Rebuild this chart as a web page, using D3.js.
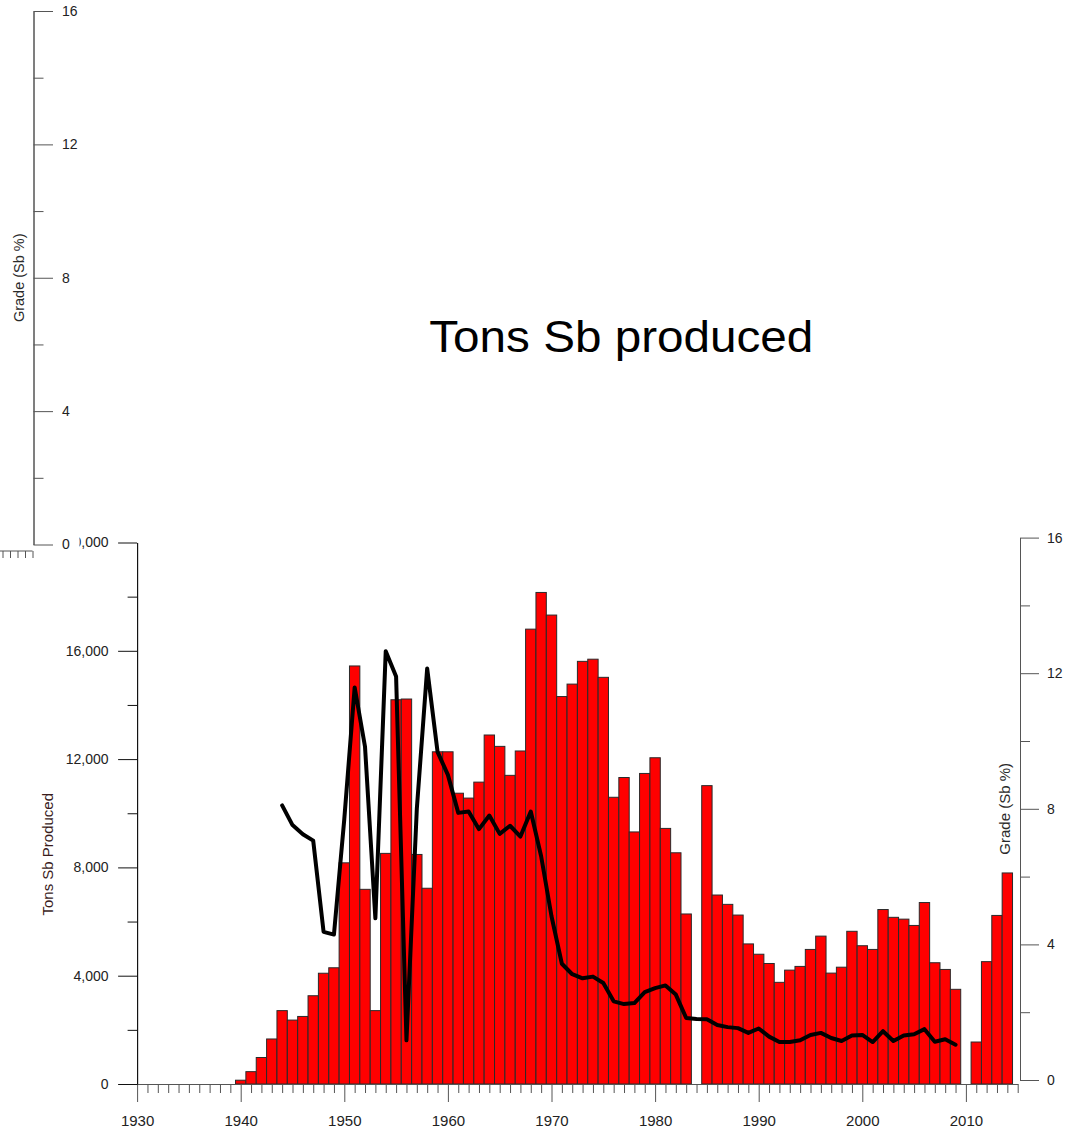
<!DOCTYPE html>
<html>
<head>
<meta charset="utf-8">
<script src="https://cdn.jsdelivr.net/npm/d3@7"></script>
<style>
  html, body { margin: 0; padding: 0; background: #fff; }
  svg { display: block; font-family: "Liberation Sans", Arial, sans-serif; }
</style>
</head>
<body>
<svg id="chart" width="1069" height="1130"></svg>
<script>
// ---------- data ----------
const years = d3.range(1940, 2015);
const tons = [
  140, 456, 979, 1663, 2710, 2361, 2495, 3260, 4091, 4293,          // 1940-1949
  8169, 15440, 7190, 2710, 8518, 14192, 14219, 8478, 7230, 12270,   // 1950-1959
  12270, 10740, 10560, 11150, 12890, 12470, 11400, 12300, 16800, 18155, // 1960-1969
  17320, 14310, 14770, 15610, 15690, 15020, 10590, 11320, 9310, 11470, // 1970-1979
  12050, 9440, 8540, 6280, 0, 11020, 6980, 6635, 6240, 5174,       // 1980-1989
  4793, 4451, 3755, 4206, 4343, 4970, 5462, 4096, 4314, 5640,      // 1990-1999
  5107, 4970, 6444, 6156, 6089, 5856, 6702, 4479, 4231, 3497,      // 2000-2009
  0, 1551, 4519, 6226, 7795                                        // 2010-2014
];
const gradeYears = d3.range(1944, 2010);
const grade = [
  8.1, 7.52, 7.25, 7.06, 4.37, 4.29,                                // 1944-1949
  7.7, 11.58, 9.83, 4.77, 12.65, 11.9, 1.17, 8.0, 12.14, 9.68,      // 1950-1959
  9.0, 7.88, 7.92, 7.40, 7.80, 7.26, 7.50, 7.18, 7.92, 6.60,        // 1960-1969
  4.83, 3.43, 3.12, 3.00, 3.05, 2.86, 2.32, 2.24, 2.27, 2.59,       // 1970-1979
  2.71, 2.79, 2.52, 1.83, 1.80, 1.79, 1.62, 1.56, 1.53, 1.39,       // 1980-1989
  1.52, 1.28, 1.12, 1.12, 1.17, 1.33, 1.39, 1.24, 1.15, 1.31,       // 1990-1999
  1.33, 1.12, 1.44, 1.15, 1.31, 1.35, 1.50, 1.13, 1.20, 1.04        // 2000-2009
];
const tonsMajor = [0, 4000, 8000, 12000, 16000, 20000];
const tonsMinor = [2000, 6000, 10000, 14000, 18000];
const gradeMajor = [0, 4, 8, 12, 16];
const gradeMinor = [2, 6, 10, 14];
const yearMajor = d3.range(1930, 2011, 10);
const yearMinor = d3.range(1931, 2016).filter(y => y % 10 !== 0);
const titleText = "Tons Sb produced";

// ---------- scales ----------
const svg = d3.select("#chart");
const x = d3.scaleLinear().domain([1930, 2015]).range([137.1, 1017.7]);
const yT = d3.scaleLinear().domain([0, 20000]).range([1084, 542.5]);
const yG = d3.scaleLinear().domain([0, 16]).range([1080, 537.6]);
const yG1 = d3.scaleLinear().domain([0, 16]).range([544.5, 11]);
const bw = x(1931) - x(1930);

function styleAxis(g, col, fs) {
  g.selectAll("path.domain").attr("stroke", col).attr("stroke-width", 1);
  g.selectAll(".tick line").attr("stroke", col).attr("stroke-width", 1);
  g.selectAll(".tick text").attr("fill", "#222").style("font-size", fs + "px")
    .style("font-family", '"Liberation Sans", Arial, sans-serif');
}

// ---------- bars ----------
const barData = years.map((yr, i) => ({ yr, v: tons[i] })).filter(d => d.v > 0);
svg.append("g").selectAll("rect").data(barData).join("rect")
  .attr("x", d => x(d.yr - 0.5))
  .attr("width", bw)
  .attr("y", d => yT(d.v))
  .attr("height", d => yT(0) - yT(d.v))
  .attr("fill", "#ff0000")
  .attr("stroke", "#2a2a2a")
  .attr("stroke-width", 1);

// ---------- x axis ----------
const gxMinor = svg.append("g").attr("transform", `translate(0,${yT(0)})`)
  .call(d3.axisBottom(x).tickValues(yearMinor).tickSize(9).tickSizeOuter(0).tickFormat(""));
styleAxis(gxMinor, "#555", 15);
const gxMajor = svg.append("g").attr("transform", `translate(0,${yT(0)})`)
  .call(d3.axisBottom(x).tickValues(yearMajor).tickSize(18).tickSizeOuter(0)
    .tickPadding(13).tickFormat(d3.format("d")));
styleAxis(gxMajor, "#555", 15);
gxMajor.select("path.domain").remove();

// ---------- left tons axis ----------
const gtMinor = svg.append("g").attr("transform", `translate(${x(1930)},0)`)
  .call(d3.axisLeft(yT).tickValues(tonsMinor).tickSize(9.5).tickSizeOuter(0).tickFormat(""));
styleAxis(gtMinor, "#111", 14);
const gtMajor = svg.append("g").attr("transform", `translate(${x(1930)},0)`)
  .call(d3.axisLeft(yT).tickValues(tonsMajor).tickSize(19).tickSizeOuter(0)
    .tickPadding(9.5).tickFormat(d3.format(",")));
styleAxis(gtMajor, "#111", 14);
svg.append("text")
  .attr("transform", `translate(53,${(yT(0) + yT(20000)) / 2 + 41}) rotate(-90)`)
  .attr("text-anchor", "middle")
  .attr("fill", "#3a1c1c")
  .style("font-size", "15px")
  .text("Tons Sb Produced");

// ---------- grade line ----------
const line = d3.line().x((d, i) => x(gradeYears[i])).y(d => yG(d));
svg.append("path").datum(grade)
  .attr("d", line)
  .attr("fill", "none")
  .attr("stroke", "#000")
  .attr("stroke-width", 4)
  .attr("stroke-linejoin", "round")
  .attr("stroke-linecap", "round");

// ---------- right grade axis ----------
const grMinor = svg.append("g").attr("transform", "translate(1020,0)")
  .call(d3.axisRight(yG).tickValues(gradeMinor).tickSize(10).tickSizeOuter(0).tickFormat(""));
styleAxis(grMinor, "#555", 14);
const grMajor = svg.append("g").attr("transform", "translate(1020,0)")
  .call(d3.axisRight(yG).tickValues(gradeMajor).tickSize(19).tickSizeOuter(0)
    .tickPadding(8).tickFormat(d3.format("d")));
styleAxis(grMajor, "#555", 14);
svg.append("text")
  .attr("transform", `translate(1009.5,${yG(8)}) rotate(-90)`)
  .attr("text-anchor", "middle")
  .attr("fill", "#2a2a2a")
  .style("font-size", "15px")
  .text("Grade (Sb %)");

// ---------- mask over clipped 20,000 label ----------
svg.append("rect").attr("x", 54).attr("y", 533).attr("width", 25.5).attr("height", 20).attr("fill", "#fff");

// ---------- top-left grade axis ----------
const gl = svg.append("g").attr("transform", "translate(33.5,0)");
const glMinor = gl.append("g")
  .call(d3.axisRight(yG1).tickValues(gradeMinor).tickSize(10).tickSizeOuter(0).tickFormat(""));
styleAxis(glMinor, "#555", 14);
const glMajor = gl.append("g")
  .call(d3.axisRight(yG1).tickValues(gradeMajor).tickSize(19.5).tickSizeOuter(0)
    .tickPadding(9).tickFormat(d3.format("d")));
styleAxis(glMajor, "#555", 14);
svg.append("text")
  .attr("transform", `translate(23.5,${yG1(8)}) rotate(-90)`)
  .attr("text-anchor", "middle")
  .attr("fill", "#2a2a2a")
  .style("font-size", "14.5px")
  .text("Grade (Sb %)");

// stray axis fragment at far left
const xs = d3.scaleLinear().domain([2011, 2015]).range([2.5, 32.5]);
const gs = svg.append("g").attr("transform", "translate(0,551)")
  .call(d3.axisBottom(xs).tickValues(d3.range(2011, 2016)).tickSize(7).tickSizeOuter(0).tickFormat(""));
styleAxis(gs, "#555", 10);
gs.select("path.domain").attr("d", "M0,0H32.5");

// ---------- title ----------
svg.append("text")
  .attr("x", 429.3).attr("y", 352)
  .attr("fill", "#000")
  .attr("textLength", 384).attr("lengthAdjust", "spacingAndGlyphs")
  .style("font-size", "44px")
  .text(titleText);
</script>
</body>
</html>
